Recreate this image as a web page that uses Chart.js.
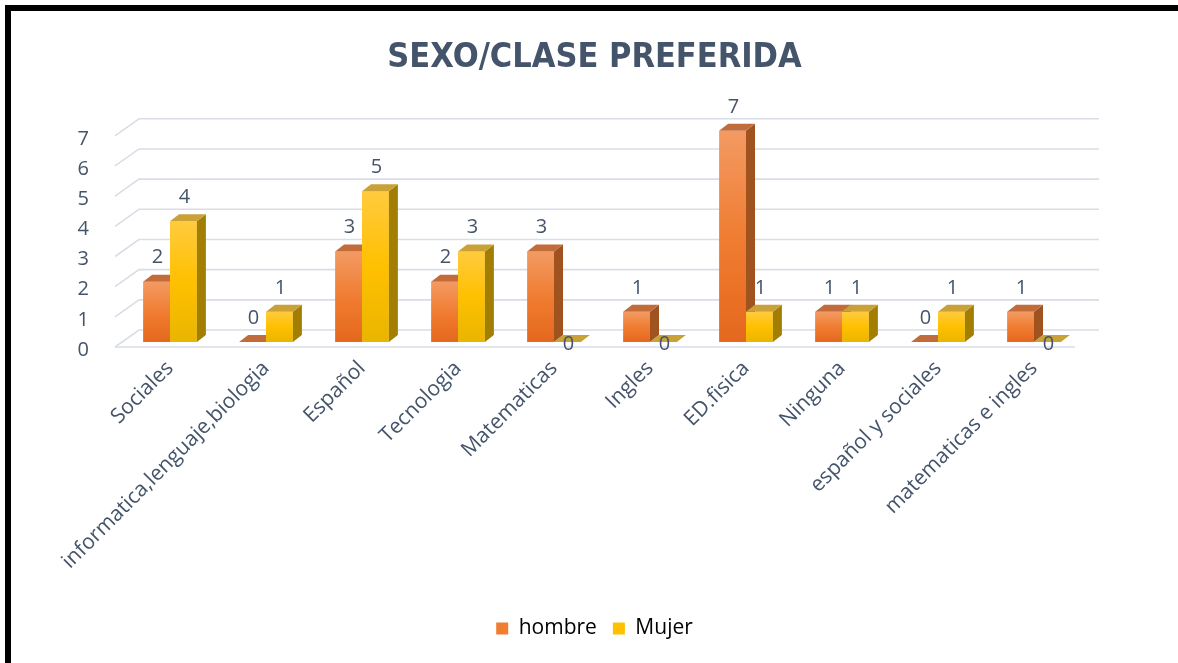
<!DOCTYPE html>
<html>
<head>
<meta charset="utf-8">
<script src="https://cdn.jsdelivr.net/npm/chart.js@4.4.0/dist/chart.umd.min.js"></script>
<style>
    html, body { margin: 0; padding: 0; background: #fff; overflow: hidden; }
    #frame { position: absolute; left: 5px; top: 5px; width: 1173px; height: 658px;
             border-top: 6px solid #000; border-left: 6px solid #000; }
    #wrap { position: absolute; left: 0; top: 0; width: 1167px; height: 652px; }
</style>
</head>
<body>
<div id="frame"><div id="wrap"><canvas id="chart"></canvas></div></div>
<script>
// datos
const categories = ['Sociales', 'informatica,lenguaje,biologia', 'Español', 'Tecnologia', 'Matematicas',
    'Ingles', 'ED.fisica', 'Ninguna', 'español y sociales', 'matematicas e ingles'];
const hombre = [2, 0, 3, 2, 3, 1, 7, 1, 0, 1];
const mujer = [4, 1, 5, 3, 0, 0, 1, 1, 1, 0];
const yTicks = [0, 1, 2, 3, 4, 5, 6, 7];

const TEXT = '#44546A';
const DX = 9, DY = 7;       // profundidad 3D de las barras
const WALL = { fx: -7, fy: 5, bx: 17, by: -12 };  // paredes (frente / fondo)

const palette = [
    { top: '#F39A63', mid: '#F07D32', bottom: '#E4681D', side: '#A0521F', cap: '#C26B3B' },
    { top: '#FFCB3E', mid: '#FFC000', bottom: '#E9B500', side: '#A27E02', cap: '#C9A136' }
];

// cuadricula en perspectiva + barras 3D dibujadas a partir de los elementos de Chart.js
const bar3d = {
    id: 'bar3d',
    beforeDatasetsDraw(chart) {
        const { ctx, chartArea: a, scales: { y } } = chart;
        ctx.save();
        ctx.strokeStyle = '#D9DEE6';
        ctx.lineWidth = 1.6;
        yTicks.forEach(v => {
            const p = y.getPixelForValue(v);
            ctx.beginPath();
            ctx.moveTo(a.left + WALL.fx, p + WALL.fy);
            ctx.lineTo(a.left + WALL.bx, p + WALL.by);
            ctx.lineTo(a.right + WALL.bx, p + WALL.by);
            ctx.stroke();
        });
        const p0 = y.getPixelForValue(0);
        ctx.beginPath();
        ctx.moveTo(a.left + WALL.fx, p0 + WALL.fy);
        ctx.lineTo(a.right + WALL.fx, p0 + WALL.fy);
        ctx.stroke();
        ctx.restore();
    },
    afterDatasetsDraw(chart) {
        const { ctx } = chart;
        ctx.save();
        [0, 1].forEach(i => {
            const col = palette[i];
            chart.getDatasetMeta(i).data.forEach(el => {
                const { x, y, base, width } = el.getProps(['x', 'y', 'base', 'width'], true);
                const l = x - width / 2, r = x + width / 2;
                if (base - y > 0.5) {
                    const g = ctx.createLinearGradient(0, y, 0, base);
                    g.addColorStop(0, col.top);
                    g.addColorStop(0.5, col.mid);
                    g.addColorStop(1, col.bottom);
                    ctx.fillStyle = g;
                    ctx.fillRect(l, y, width, base - y);
                    ctx.fillStyle = col.side;
                    ctx.beginPath();
                    ctx.moveTo(r, y); ctx.lineTo(r + DX, y - DY);
                    ctx.lineTo(r + DX, base - DY); ctx.lineTo(r, base);
                    ctx.closePath(); ctx.fill();
                }
                ctx.fillStyle = col.cap;
                ctx.beginPath();
                ctx.moveTo(l, y); ctx.lineTo(r, y);
                ctx.lineTo(r + DX, y - DY); ctx.lineTo(l + DX, y - DY);
                ctx.closePath(); ctx.fill();
            });
        });
        // etiquetas de datos
        ctx.fillStyle = TEXT;
        ctx.font = '20px "Open Sans"';
        ctx.textAlign = 'center';
        ctx.textBaseline = 'middle';
        chart.data.datasets.forEach((ds, i) => {
            chart.getDatasetMeta(i).data.forEach((el, j) => {
                const v = ds.data[j];
                const off = (v === 0 && i === 1) ? -2 : 24;
                ctx.fillText(String(v), el.x + 1, el.y - off);
            });
        });
        ctx.restore();
    }
};

Chart.defaults.font.family = '"Open Sans", sans-serif';
Chart.defaults.color = TEXT;

new Chart(document.getElementById('chart'), {
    type: 'bar',
    data: {
        labels: categories,
        datasets: [
            { label: 'hombre', data: hombre, backgroundColor: 'rgba(0,0,0,0)' },
            { label: 'Mujer', data: mujer, backgroundColor: 'rgba(0,0,0,0)' }
        ]
    },
    options: {
        responsive: true,
        maintainAspectRatio: false,
        animation: false,
        events: [],
        categoryPercentage: 0.56,
        barPercentage: 1,
        layout: { padding: { bottom: 14 } },
        plugins: {
            title: {
                display: true,
                text: 'SEXO/CLASE PREFERIDA',
                color: TEXT,
                font: { family: '"Liberation Sans Narrow", "DejaVu Sans Condensed", "Open Sans", sans-serif', size: 34, weight: 'bold' },
                padding: { top: 27, bottom: 52 }
            },
            legend: {
                position: 'bottom',
                labels: {
                    boxWidth: 12, boxHeight: 12, padding: 16,
                    font: { size: 21 }, color: TEXT,
                    generateLabels: chart => chart.data.datasets.map((ds, i) => ({
                        text: ds.label, fillStyle: palette[i].mid, strokeStyle: palette[i].mid,
                        lineWidth: 0, datasetIndex: i
                    }))
                }
            },
            tooltip: { enabled: false }
        },
        scales: {
            x: {
                grid: { display: false },
                border: { display: false },
                ticks: { minRotation: 45, maxRotation: 45, padding: 6, font: { size: 21 }, color: TEXT },
                afterFit: s => { s.height = 260; }
            },
            y: {
                min: 0, max: 7,
                grid: { display: false },
                border: { display: false },
                ticks: { stepSize: 1, padding: 25, labelOffset: 8, font: { size: 20 }, color: TEXT },
                afterFit: s => { s.width = 111; }
            },
            yR: {
                position: 'right',
                display: true,
                grid: { display: false },
                border: { display: false },
                ticks: { display: false },
                afterFit: s => { s.width = 96; }
            }
        }
    },
    plugins: [bar3d]
});
</script>
</body>
</html>
